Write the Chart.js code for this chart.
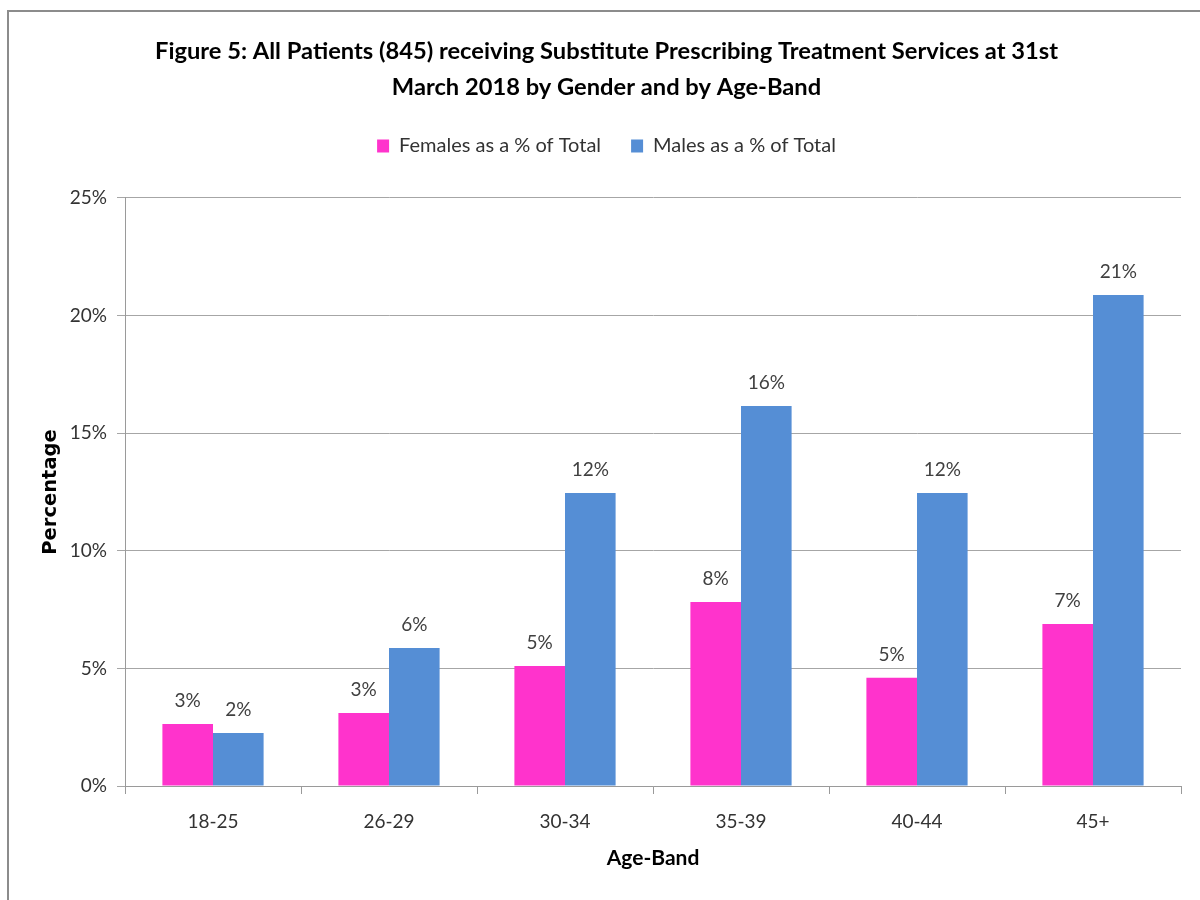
<!DOCTYPE html>
<html>
<head>
<meta charset="utf-8">
<title>Substitute Prescribing Treatment Services by Gender and Age-Band</title>
<script src="https://cdn.jsdelivr.net/npm/chart.js@4.4.1/dist/chart.umd.min.js"></script>
<style>
  html, body { margin: 0; padding: 0; background: #ffffff; }
  #frame {
    position: absolute; left: 7px; top: 10px; width: 1200px; height: 900px;
    border-left: 2px solid #8c8c8c; border-top: 2px solid #8c8c8c;
  }
  #wrap { position: absolute; left: 0; top: 0; width: 1200px; height: 900px; }
</style>
</head>
<body>
<div id="frame"></div>
<div id="wrap"><canvas id="chart" width="1200" height="900"></canvas></div>
<script>
// Age bands on the category axis
const ageBands = ['18-25', '26-29', '30-34', '35-39', '40-44', '45+'];
// Share of all 845 patients, in percent
const femalesPct = [2.64, 3.10, 5.10, 7.82, 4.60, 6.89];
const malesPct   = [2.25, 5.87, 12.46, 16.16, 12.46, 20.88];
// Value axis range and step, in percent
const yMin = 0;
const yMax = 25;
const yStep = 5;

const seriesNames = ['Females as a % of Total', 'Males as a % of Total'];
const titleLines = [
  'Figure 5: All Patients (845) receiving Substitute Prescribing Treatment Services at 31st',
  'March 2018 by Gender and by Age-Band'
];

const TEXT_FONT = 'Lato, "Open Sans", sans-serif';

// Percentage labels above each bar
const barValueLabels = {
  id: 'barValueLabels',
  afterDatasetsDraw(chart) {
    const ctx = chart.ctx;
    ctx.save();
    ctx.font = '19px ' + TEXT_FONT;
    ctx.fillStyle = '#404040';
    ctx.textAlign = 'center';
    ctx.textBaseline = 'middle';
    chart.data.datasets.forEach((ds, di) => {
      const meta = chart.getDatasetMeta(di);
      meta.data.forEach((bar, i) => {
        ctx.fillText(Math.round(ds.data[i]) + '%', bar.x, bar.y - 23);
      });
    });
    ctx.restore();
  }
};

// Extra white space between the legend row and the plot
const legendGap = {
  id: 'legendGap',
  beforeInit(chart) {
    const fit = chart.legend.fit;
    chart.legend.fit = function () {
      fit.call(this);
      this.height += 32;
    };
  }
};

new Chart(document.getElementById('chart'), {
  type: 'bar',
  data: {
    labels: ageBands,
    datasets: [
      { label: seriesNames[0], data: femalesPct, backgroundColor: '#ff33cc',
        categoryPercentage: 0.575, barPercentage: 1.0 },
      { label: seriesNames[1], data: malesPct, backgroundColor: '#558ed5',
        categoryPercentage: 0.575, barPercentage: 1.0 }
    ]
  },
  options: {
    responsive: false,
    animation: false,
    layout: { padding: { left: 32, right: 19, top: 0, bottom: 0 } },
    plugins: {
      tooltip: { enabled: false },
      title: {
        display: true,
        text: titleLines,
        color: '#000000',
        font: { family: TEXT_FONT, size: 23.7, weight: 'bold', lineHeight: 1.54 },
        padding: { top: 33, bottom: 0 }
      },
      legend: {
        display: true,
        position: 'top',
        labels: {
          color: '#333333',
          font: { family: TEXT_FONT, size: 20 },
          boxWidth: 12,
          boxHeight: 13,
          padding: 30
        }
      }
    },
    scales: {
      x: {
        grid: { drawOnChartArea: false, drawTicks: true, tickLength: 8, color: '#9a9a9a', offset: true },
        border: { color: '#9a9a9a', width: 1 },
        ticks: { color: '#333333', font: { family: TEXT_FONT, size: 19 }, padding: 16 },
        title: {
          display: true, text: 'Age-Band', color: '#000000',
          font: { family: TEXT_FONT, size: 21, weight: 'bold' },
          padding: { top: 0, bottom: 29 }
        },
        afterFit(scale) { scale.height = 114; }
      },
      y: {
        min: yMin, max: yMax,
        grid: { color: '#a6a6a6', tickLength: 8 },
        border: { color: '#9a9a9a', width: 1 },
        ticks: {
          stepSize: yStep,
          color: '#333333',
          font: { family: TEXT_FONT, size: 19 },
          padding: 10,
          callback: (v) => v + '%'
        },
        title: {
          display: true, text: 'Percentage', color: '#000000',
          font: { family: '"DejaVu Sans", sans-serif', size: 19.5, weight: 'bold' },
          padding: { top: 7, bottom: 0 }
        },
        afterFit(scale) { scale.width = 93; }
      }
    }
  },
  plugins: [barValueLabels, legendGap]
});
</script>
</body>
</html>
